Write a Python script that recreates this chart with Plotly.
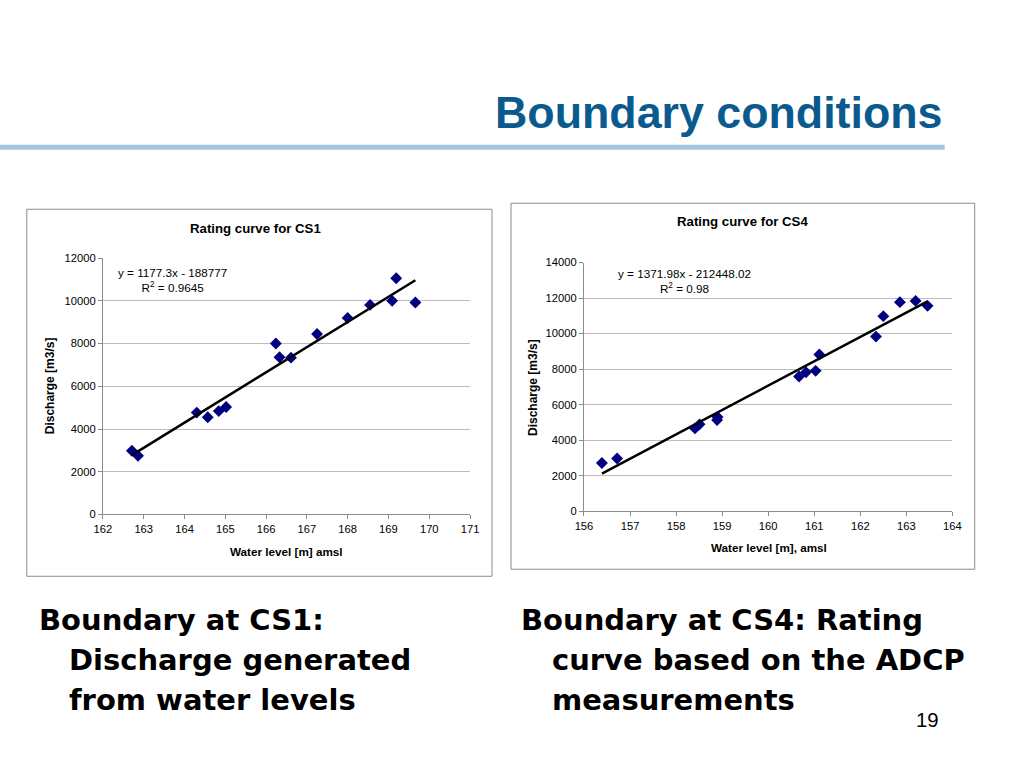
import plotly.graph_objects as go
from plotly.subplots import make_subplots

# CS1: water level [m amsl] vs discharge [m3/s]
cs1_level = [162.71, 162.86, 164.30, 164.57, 164.84, 165.02, 166.24, 166.33,
             166.61, 167.25, 168.00, 168.55, 169.09, 169.19, 169.66]
cs1_q = [2980, 2750, 4770, 4550, 4840, 5030, 8000, 7360,
         7340, 8450, 9200, 9810, 10000, 11060, 9920]
cs1_fit = (1177.3, -188777)

# CS4: ADCP measurements
cs4_level = [156.39, 156.72, 158.41, 158.51, 158.89, 158.90, 160.67, 160.82,
             161.03, 161.11, 162.34, 162.50, 162.86, 163.20, 163.46]
cs4_q = [2710, 2970, 4660, 4890, 5130, 5300, 7580, 7820,
         7900, 8820, 9830, 10980, 11770, 11840, 11560]
cs4_fit = (1371.98, -212448.02)

FONT = "Arial, Liberation Sans, sans-serif"
WIDE = "DejaVu Sans, Arial, sans-serif"
W, H = 1024, 768
S = 0.983  # the page gets shrunk a little around its centre when photographed


def px(x):
    return (W / 2 + (x - W / 2) / S) / W


def py(y):
    return 1 - (H / 2 + (y - H / 2) / S) / H


def fs(size):
    return size / S


def trend(levels, fit):
    xs = [min(levels), max(levels)]
    return xs, [fit[0] * x + fit[1] for x in xs]


fig = make_subplots(rows=1, cols=2)

for col, (lv, q, fit) in enumerate(
    [(cs1_level, cs1_q, cs1_fit), (cs4_level, cs4_q, cs4_fit)], start=1
):
    fig.add_trace(
        go.Scatter(x=lv, y=q, mode="markers",
                   marker=dict(symbol="diamond", size=fs(9), color="#000080"),
                   showlegend=False),
        row=1, col=col,
    )
    tx, ty = trend(lv, fit)
    fig.add_trace(
        go.Scatter(x=tx, y=ty, mode="lines",
                   line=dict(color="black", width=2.5), showlegend=False),
        row=1, col=col,
    )

axis_common = dict(
    showline=True, linecolor="#8c8c8c", linewidth=1,
    ticks="outside", ticklen=4, tickcolor="#8c8c8c",
    tickfont=dict(family=FONT, size=fs(11), color="black"),
    zeroline=False, tickformat="d",
)

fig.update_xaxes(**axis_common, showgrid=False, dtick=1)
fig.update_yaxes(**axis_common, showgrid=True, gridcolor="#bdbdbd", gridwidth=1)

fig.update_xaxes(row=1, col=1, range=[162, 171],
                 domain=[px(102.7), px(470)])
fig.update_yaxes(row=1, col=1, range=[0, 12000], dtick=2000,
                 domain=[py(514.3), py(258.3)])
fig.update_xaxes(row=1, col=2, range=[156, 164],
                 domain=[px(584), px(952.7)])
fig.update_yaxes(row=1, col=2, range=[0, 14000], dtick=2000,
                 domain=[py(511), py(262.7)])

shapes = [
    # title rule
    dict(type="rect", xref="paper", yref="paper",
         x0=-0.02, x1=px(945), y0=py(150), y1=py(145),
         fillcolor="#a9c4de", line=dict(width=0), layer="below"),
    # chart frames
    dict(type="rect", xref="paper", yref="paper",
         x0=px(26.5), x1=px(492), y0=py(576), y1=py(209.5),
         line=dict(color="#8c8c8c", width=1), layer="below"),
    dict(type="rect", xref="paper", yref="paper",
         x0=px(511), x1=px(975), y0=py(569), y1=py(203.5),
         line=dict(color="#8c8c8c", width=1), layer="below"),
]


def note(x, y, text, size, bold=False, xanchor="center", angle=0,
         color="black", family=FONT):
    if bold:
        text = f"<b>{text}</b>"
    return dict(x=px(x), y=py(y), xref="paper", yref="paper", text=text,
                showarrow=False, xanchor=xanchor, yanchor="middle",
                textangle=angle, align="center",
                font=dict(family=family, size=fs(size), color=color))


annotations = [
    note(945, 112, "Boundary conditions", 44, bold=True, xanchor="right",
         color="#0b5a8e"),
    note(255, 229, "Rating curve for CS1", 13, bold=True),
    note(743, 222, "Rating curve for CS4", 13, bold=True),
    note(50, 386, "Discharge [m3/s]", 11.8, bold=True, angle=-90),
    note(533, 387, "Discharge [m3/s]", 11.8, bold=True, angle=-90),
    note(286, 551, "Water level [m] amsl", 11.5, bold=True),
    note(769, 547, "Water level [m], amsl", 11.5, bold=True),
    note(172, 280, "y = 1177.3x - 188777<br>R<sup>2</sup> = 0.9645", 11.5),
    note(685, 281, "y = 1371.98x - 212448.02<br>R<sup>2</sup> = 0.98", 11.5),
    note(37, 620, "Boundary at CS1:", 28.5, bold=True, xanchor="left",
         family=WIDE),
    note(67, 660, "Discharge generated", 28.5, bold=True, xanchor="left",
         family=WIDE),
    note(67, 700, "from water levels", 28.5, bold=True, xanchor="left",
         family=WIDE),
    note(519, 620, "Boundary at CS4: Rating", 28.5, bold=True,
         xanchor="left", family=WIDE),
    note(550, 660, "curve based on the ADCP", 28.5, bold=True,
         xanchor="left", family=WIDE),
    note(550, 700, "measurements", 28.5, bold=True, xanchor="left",
         family=WIDE),
    note(928, 720, "19", 20),
]

fig.update_layout(
    width=W, height=H,
    margin=dict(l=0, r=0, t=0, b=0),
    paper_bgcolor="white", plot_bgcolor="white",
    shapes=shapes, annotations=annotations,
    showlegend=False,
)

# drop the default body margin so the 1024x768 figure fills the window
fig.write_html("out.html", config={"displayModeBar": False},
               post_script="document.body.style.margin='0';")
